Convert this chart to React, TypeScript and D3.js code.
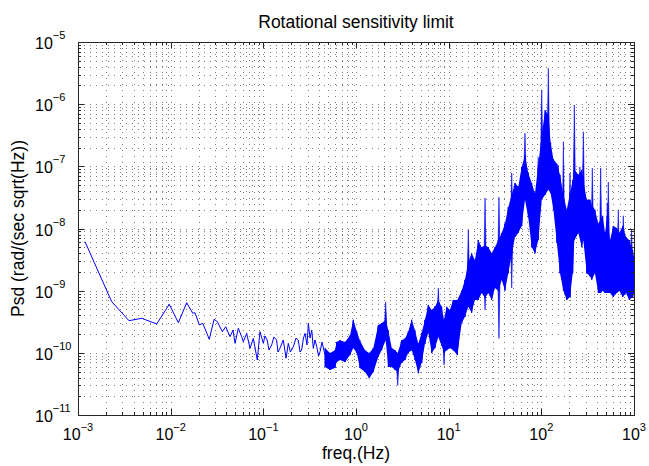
import React from 'react';
import * as d3 from 'd3';

const W = 649;
const H = 466;
const M = { left: 78, right: 634, top: 42, bottom: 415 };

const titleText = 'Rotational sensitivity limit';
const xLabelText = 'freq.(Hz)';
const yLabelText = 'Psd (rad/(sec sqrt(Hz))';

const xTickExps = [-3, -2, -1, 0, 1, 2, 3];
const yTickExps = [-11, -10, -9, -8, -7, -6, -5];

// low-frequency part of the spectrum (clearly resolved line)
const lowFreq = [0.00119, 0.00231, 0.00355, 0.00487, 0.00707, 0.00966, 0.0121, 0.0149, 0.0173, 0.0183,
  0.0204, 0.0222, 0.0261, 0.0294, 0.0319, 0.0361, 0.0393, 0.0437, 0.0471, 0.0495,
  0.0537, 0.0584, 0.0608, 0.0661, 0.0718, 0.0779, 0.0861, 0.092, 0.1, 0.104,
  0.110, 0.115, 0.123, 0.130, 0.139, 0.144, 0.151, 0.164, 0.176, 0.186,
  0.196, 0.211, 0.225, 0.238, 0.249, 0.259, 0.271, 0.282, 0.296, 0.306,
  0.319, 0.333, 0.346, 0.361, 0.377, 0.394, 0.409, 0.430, 0.463];
const lowPsd = [6.14e-9, 6.65e-10, 3.29e-10, 3.59e-10, 2.91e-10, 6.04e-10, 3.05e-10, 6.41e-10, 4.33e-10, 4.42e-10,
  2.81e-10, 2.99e-10, 1.65e-10, 3.46e-10, 3.17e-10, 2.19e-10, 2.63e-10, 1.82e-10, 2.33e-10, 1.42e-10,
  2.48e-10, 1.82e-10, 1.51e-10, 2.06e-10, 1.18e-10, 1.71e-10, 7.67e-11, 2.19e-10, 1.42e-10, 1.87e-10,
  1.61e-10, 1.11e-10, 1.34e-10, 1.80e-10, 1.61e-10, 1.03e-10, 1.18e-10, 1.61e-10, 8.2e-11, 1.42e-10,
  1.03e-10, 1.26e-10, 1.73e-10, 1.61e-10, 1.03e-10, 1.11e-10, 1.73e-10, 2.06e-10, 1.34e-10, 2.99e-10,
  1.73e-10, 2.33e-10, 1.18e-10, 1.61e-10, 1.26e-10, 8.9e-11, 1.04e-10, 1.49e-10, 9.2e-11];

// dense part of the spectrum: upper / lower envelope of the noise band
const bandFreq = [0.463, 0.524, 0.593, 0.619, 0.672, 0.761, 0.862, 0.935, 1.02, 1.10,
  1.25, 1.39, 1.54, 1.74, 1.89, 2.09, 2.23, 2.43, 2.64, 2.82,
  3.11, 3.38, 3.67, 3.99, 4.33, 4.70, 5.12, 5.55, 6.03, 6.56,
  7.12, 7.73, 8.41, 8.91, 9.52, 10.3, 11.2, 12.4, 13.8, 15.0,
  16.3, 17.7, 19.2, 20.9, 22.7, 24.7, 26.8, 29.1, 31.6, 34.3,
  37.4, 40.5, 44.0, 47.9, 52.0, 56.4, 61.4, 66.6, 72.3, 78.7,
  85.4, 92.7, 101, 110, 119, 126, 135, 147, 159, 173,
  188, 204, 218, 227, 251, 273, 284, 309, 335, 350,
  379, 412, 437, 459, 487, 515, 551, 598, 651, 694,
  755, 820, 890, 968, 1000];
const bandHigh = [1.2e-10, 9.9e-11, 1.1e-10, 1.5e-10, 1.6e-10, 1.5e-10, 1.9e-10, 3.4e-10, 2.2e-10, 1.6e-10,
  1.1e-10, 9.9e-11, 1.2e-10, 2.8e-10, 3.0e-10, 3.4e-10, 2.3e-10, 1.2e-10, 1.1e-10, 9.9e-11,
  1.6e-10, 1.7e-10, 2.2e-10, 3.4e-10, 2.3e-10, 1.4e-10, 2.1e-10, 3.4e-10, 5.9e-10, 4.9e-10,
  5.5e-10, 7.1e-10, 5.5e-10, 3.4e-10, 5.5e-10, 4.9e-10, 7.1e-10, 7.1e-10, 1.0e-9, 1.5e-9,
  2.9e-9, 4.0e-9, 3.1e-9, 6.5e-9, 5.0e-9, 5.4e-9, 5.0e-9, 4.0e-9, 5.0e-9, 6.5e-9,
  8.5e-9, 1.2e-8, 2.2e-8, 3.5e-8, 5.4e-8, 4.7e-8, 9.8e-8, 1.5e-7, 7.8e-8, 5.4e-8,
  3.7e-8, 1.05e-7, 3.2e-7, 8.0e-7, 6.7e-7, 2.4e-7, 1.3e-7, 1.1e-7, 7.3e-8, 3.5e-8,
  2.0e-8, 3.7e-8, 6.0e-8, 8.7e-8, 7.3e-8, 8.7e-8, 6.0e-8, 2.9e-8, 2.9e-8, 2.4e-8,
  2.0e-8, 1.2e-8, 1.4e-8, 1.6e-8, 8.5e-9, 1.6e-8, 6.5e-9, 1.1e-8, 1.02e-8, 8.5e-9,
  1.1e-8, 7.3e-9, 6.5e-9, 4.5e-9, 3.5e-9];
const bandLow = [5.9e-11, 5.3e-11, 5.7e-11, 7.1e-11, 7.7e-11, 7.1e-11, 9.2e-11, 1.2e-10, 9.9e-11, 5.7e-11,
  4.9e-11, 3.9e-11, 4.9e-11, 8.6e-11, 1.1e-10, 1.6e-10, 5.9e-11, 5.9e-11, 5.3e-11, 4.9e-11,
  6.9e-11, 7.7e-11, 1.0e-10, 1.1e-10, 7.7e-11, 4.7e-11, 6.9e-11, 1.4e-10, 2.1e-10, 9.9e-11,
  1.2e-10, 1.8e-10, 1.3e-10, 1.0e-10, 1.1e-10, 1.2e-10, 1.1e-10, 9.2e-11, 3.0e-10, 3.8e-10,
  5.5e-10, 4.4e-10, 7.1e-10, 7.1e-10, 9.2e-10, 7.6e-10, 9.2e-10, 7.1e-10, 1.1e-9, 1.0e-9,
  1.5e-9, 1.0e-9, 1.9e-9, 3.8e-9, 7.3e-9, 8.5e-9, 1.1e-8, 2.9e-8, 1.5e-8, 5.0e-9,
  4.0e-9, 6.5e-9, 2.9e-8, 3.5e-8, 4.2e-8, 3.7e-8, 2.0e-8, 5.9e-9, 1.9e-9, 1.0e-9,
  7.1e-10, 7.9e-10, 1.9e-9, 6.5e-9, 8.5e-9, 5.0e-9, 6.5e-9, 1.9e-9, 1.7e-9, 1.5e-9,
  1.9e-9, 9.2e-10, 9.2e-10, 1.0e-9, 9.2e-10, 9.2e-10, 9.2e-10, 7.9e-10, 9.2e-10, 1.0e-9,
  7.9e-10, 9.2e-10, 7.1e-10, 7.9e-10, 9.2e-10];

// narrow spectral lines sticking out of the band
const spikeFreq = [2.09, 2.82, 7.73, 8.91, 16.3, 24.7, 24.7, 34.9, 34.9, 47.9,
  47.9, 66.6, 92.7, 101, 119, 152, 173, 204, 227, 261,
  284, 355, 437, 515, 528, 677, 766, 942];
const spikeTip = [6.6e-10, 3.0e-11, 1.1e-9, 6.4e-11, 9.5e-9, 3.1e-8, 4.9e-10, 3.2e-8, 1.7e-10, 7.8e-8,
  1.1e-9, 3.4e-7, 1.4e-7, 1.7e-6, 3.8e-6, 1.05e-7, 2.5e-7, 7.8e-8, 9.7e-7, 9.8e-8,
  3.6e-7, 9.4e-8, 9.4e-8, 2.6e-8, 5.6e-8, 2.0e-8, 1.6e-8, 9.5e-9];

const FONT = '"Liberation Sans", Arial, Helvetica, sans-serif';
const BLUE = '#0000ff';

export default function App() {
  const x = d3.scaleLog().domain([1e-3, 1e3]).range([M.left, M.right]);
  const y = d3.scaleLog().domain([1e-11, 1e-5]).range([M.bottom, M.top]);
  const snap = (v: number) => Math.round(v) + 0.5;

  const xMajor = xTickExps.map((e) => Math.pow(10, e));
  const yMajor = yTickExps.map((e) => Math.pow(10, e));
  const xMinor: number[] = [];
  xTickExps.slice(0, -1).forEach((e) => {
    for (let m = 2; m <= 9; m++) xMinor.push(m * Math.pow(10, e));
  });
  const yMinor: number[] = [];
  yTickExps.slice(0, -1).forEach((e) => {
    for (let m = 2; m <= 9; m++) yMinor.push(m * Math.pow(10, e));
  });

  const lowLine = d3
    .line<number>()
    .x((_, i) => x(lowFreq[i]))
    .y((d) => y(d))(lowPsd) as string;

  const bandArea = d3
    .area<number>()
    .x((f) => x(f))
    .y0((_, i) => y(bandLow[i]))
    .y1((_, i) => y(bandHigh[i]))(bandFreq) as string;

  const zig: [number, number][] = [];
  bandFreq.forEach((f, i) => {
    zig.push([x(f), y(bandHigh[i])]);
    zig.push([x(f), y(bandLow[i])]);
  });
  const zigLine = d3.line()(zig) as string;

  const spikes = spikeFreq.map((f, i) => {
    const idx = d3.minIndex(bandFreq, (b) => Math.abs(Math.log10(b) - Math.log10(f)));
    const base = Math.sqrt(bandHigh[idx] * bandLow[idx]);
    const sx = x(f);
    const yb = y(base);
    const yt = y(spikeTip[i]);
    return `M${sx - 1.3},${yb}L${sx},${yt}L${sx + 1.3},${yb}Z`;
  });

  const xs = [...xMajor, ...xMinor];
  const ys = [...yMajor, ...yMinor];

  return (
    <svg
      width={W}
      height={H}
      style={{ position: 'absolute', left: 0, top: 0, background: '#fff' }}
      fontFamily={FONT}
    >
      <rect x={0} y={0} width={W} height={H} fill="#fff" />
      <defs>
        <clipPath id="plotClip">
          <rect x={M.left} y={M.top} width={M.right - M.left} height={M.bottom - M.top} />
        </clipPath>
      </defs>

      {/* dotted grid */}
      <g stroke="#000" strokeWidth={1} strokeDasharray="1,5" opacity={0.5}>
        {xs.map((v, i) => (
          <line key={'gx' + i} x1={snap(x(v))} x2={snap(x(v))} y1={M.top} y2={M.bottom} />
        ))}
        {ys.map((v, i) => (
          <line key={'gy' + i} x1={M.left} x2={M.right} y1={snap(y(v))} y2={snap(y(v))} />
        ))}
      </g>

      {/* data */}
      <g clipPath="url(#plotClip)">
        <path d={lowLine} fill="none" stroke={BLUE} strokeWidth={1} strokeLinejoin="round" />
        <path d={bandArea} fill={BLUE} stroke="none" />
        <path d={zigLine} fill="none" stroke={BLUE} strokeWidth={1} />
        {spikes.map((d, i) => (
          <path key={'s' + i} d={d} fill={BLUE} stroke={BLUE} strokeWidth={0.6} />
        ))}
      </g>

      {/* ticks */}
      <g stroke="#262626" strokeWidth={1}>
        {xMajor.map((v, i) => (
          <g key={'tx' + i}>
            <line x1={snap(x(v))} x2={snap(x(v))} y1={M.bottom} y2={M.bottom - 6} />
            <line x1={snap(x(v))} x2={snap(x(v))} y1={M.top} y2={M.top + 6} />
          </g>
        ))}
        {xMinor.map((v, i) => (
          <g key={'tmx' + i}>
            <line x1={snap(x(v))} x2={snap(x(v))} y1={M.bottom} y2={M.bottom - 3} />
            <line x1={snap(x(v))} x2={snap(x(v))} y1={M.top} y2={M.top + 3} />
          </g>
        ))}
        {yMajor.map((v, i) => (
          <g key={'ty' + i}>
            <line x1={M.left} x2={M.left + 6} y1={snap(y(v))} y2={snap(y(v))} />
            <line x1={M.right} x2={M.right - 6} y1={snap(y(v))} y2={snap(y(v))} />
          </g>
        ))}
        {yMinor.map((v, i) => (
          <g key={'tmy' + i}>
            <line x1={M.left} x2={M.left + 3} y1={snap(y(v))} y2={snap(y(v))} />
            <line x1={M.right} x2={M.right - 3} y1={snap(y(v))} y2={snap(y(v))} />
          </g>
        ))}
      </g>

      {/* box */}
      <rect
        x={M.left + 0.5}
        y={M.top + 0.5}
        width={M.right - M.left}
        height={M.bottom - M.top}
        fill="none"
        stroke="#262626"
        strokeWidth={1}
      />

      {/* x tick labels */}
      {xTickExps.map((e, i) => (
        <text key={'lx' + i} x={x(Math.pow(10, e))} y={440} textAnchor="middle" fontSize={16} fill="#000">
          <tspan>10</tspan>
          <tspan fontSize={11} dy={-9}>{e < 0 ? '\u2212' + Math.abs(e) : String(e)}</tspan>
        </text>
      ))}

      {/* y tick labels */}
      {yTickExps.map((e, i) => (
        <text key={'ly' + i} x={35} y={y(Math.pow(10, e)) + 7} textAnchor="start" fontSize={16} fill="#000">
          <tspan>10</tspan>
          <tspan fontSize={11} dy={-10}>{e < 0 ? '\u2212' + Math.abs(e) : String(e)}</tspan>
        </text>
      ))}

      {/* title and labels */}
      <text x={(M.left + M.right) / 2} y={28} textAnchor="middle" fontSize={17.5} fill="#000">
        {titleText}
      </text>
      <text x={(M.left + M.right) / 2} y={459} textAnchor="middle" fontSize={17.5} fill="#000">
        {xLabelText}
      </text>
      <text
        transform={`translate(24,${(M.top + M.bottom) / 2}) rotate(-90)`}
        textAnchor="middle"
        fontSize={17.5}
        fill="#000"
      >
        {yLabelText}
      </text>
    </svg>
  );
}
